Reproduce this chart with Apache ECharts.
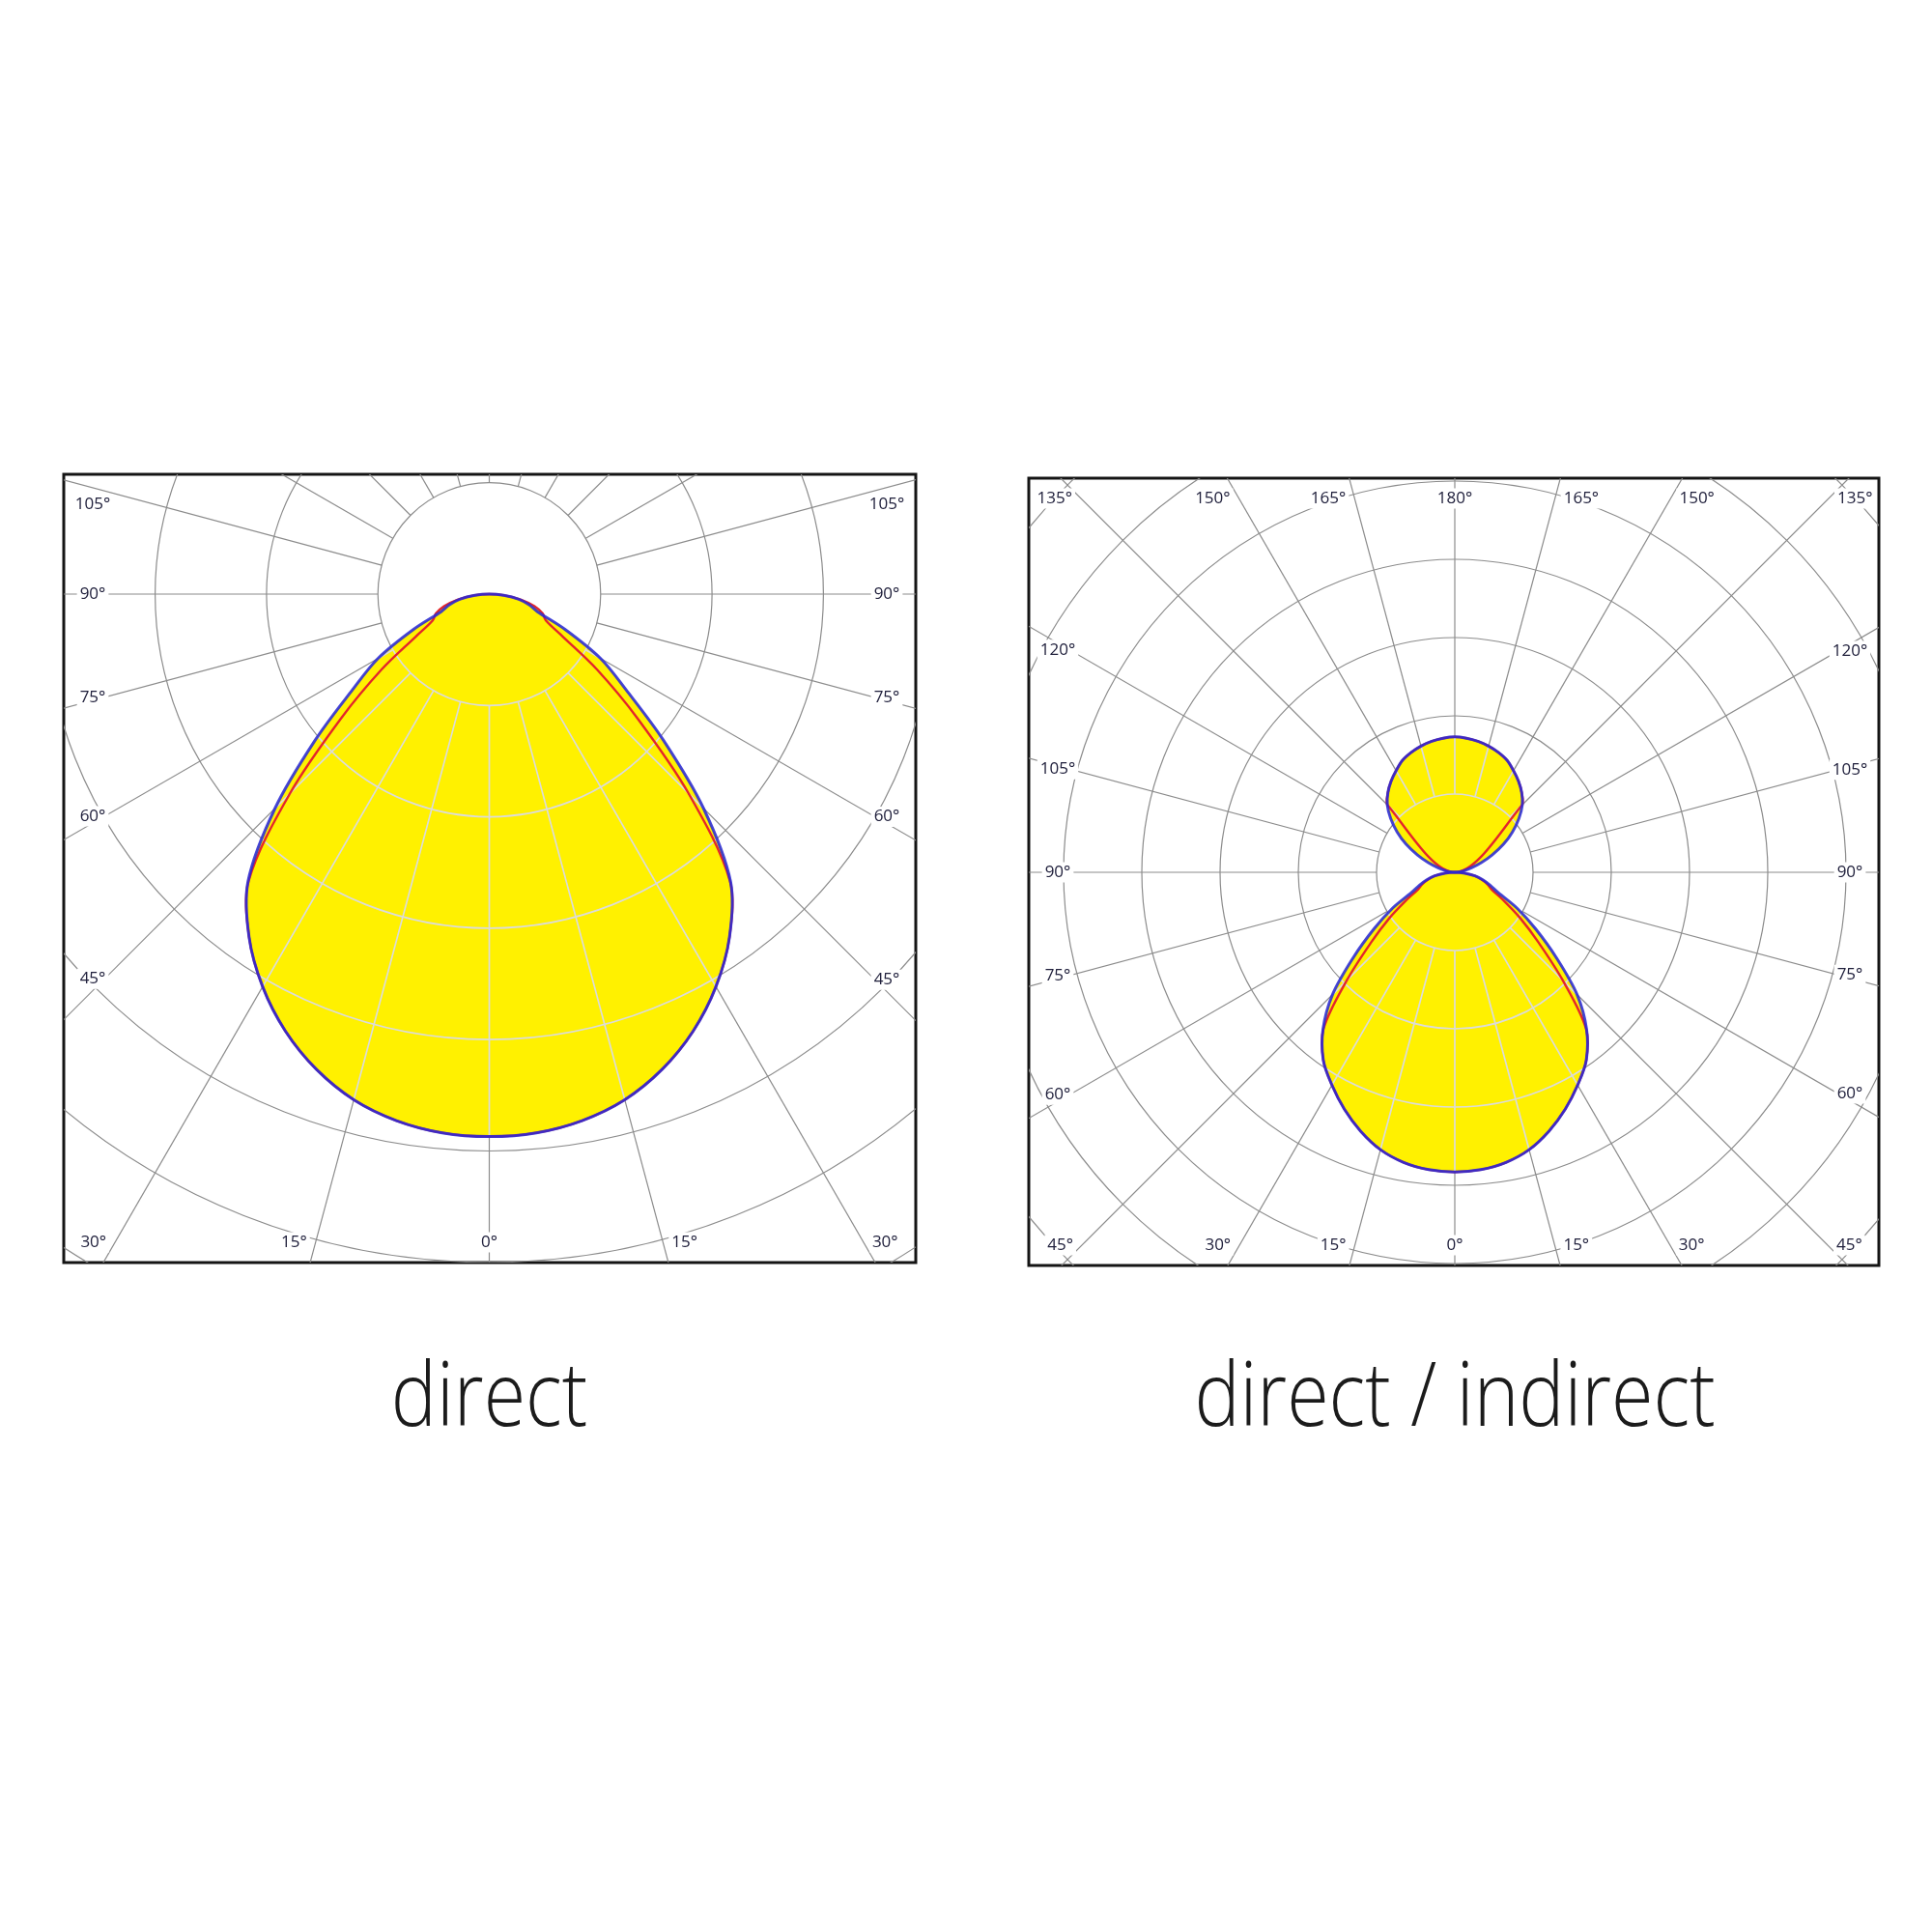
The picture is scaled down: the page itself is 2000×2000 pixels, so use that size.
<!DOCTYPE html>
<html>
<head>
<meta charset="utf-8">
<script src="https://cdn.jsdelivr.net/npm/echarts@6/dist/echarts.min.js"></script>
<style>html,body{margin:0;padding:0;background:#fff}#chart{width:2000px;height:2000px}</style>
</head>
<body>
<div id="chart"></div>
<script>
// ---------------- data (intensities in ring units) ----------------
const GAMMA_LOWER = [0, 5, 10, 15, 20, 25, 30, 35, 40, 45, 50, 55, 60, 65, 70, 75, 80, 85, 90];
const DIRECT_C0_C180  = [4.87, 4.855, 4.80, 4.70, 4.54, 4.33, 4.07, 3.76, 3.37, 2.72, 2.04, 1.50, 1.15, 0.75, 0.46, 0.37, 0.27, 0.13, 0];
const DIRECT_C90_C270 = [4.87, 4.855, 4.80, 4.70, 4.54, 4.33, 4.07, 3.76, 3.36, 2.53, 1.74, 1.18, 0.76, 0.56, 0.51, 0.42, 0.29, 0.14, 0];

const DI_LOWER_C0_C180  = [3.83, 3.815, 3.765, 3.67, 3.52, 3.34, 3.14, 2.93, 2.62, 2.21, 1.69, 1.26, 0.92, 0.61, 0.48, 0.37, 0.26, 0.13, 0];
const DI_LOWER_C90_C270 = [3.83, 3.815, 3.765, 3.67, 3.52, 3.34, 3.14, 2.93, 2.61, 1.95, 1.40, 1.02, 0.72, 0.52, 0.44, 0.35, 0.26, 0.12, 0];

const GAMMA_UPPER = [90, 95, 100, 105, 110, 115, 120, 125, 130, 135, 140, 145, 150, 155, 160, 165, 170, 175, 180];
const DI_UPPER_C0_C180  = [0, 0.05, 0.12, 0.22, 0.36, 0.53, 0.72, 0.90, 1.07, 1.22, 1.33, 1.42, 1.50, 1.58, 1.63, 1.67, 1.70, 1.72, 1.73];
const DI_UPPER_C90_C270 = [0, 0, 0, 0, 0, 0, 0, 0, 0, 1.21, 1.33, 1.42, 1.50, 1.58, 1.63, 1.67, 1.70, 1.72, 1.73];

const RING_VALUES = [1, 2, 3, 4, 5, 6, 7, 8, 9];
const RAY_ANGLES = [0, 15, 30, 45, 60, 75, 90, 105, 120, 135, 150, 165, 180, 195, 210, 225, 240, 255, 270, 285, 300, 315, 330, 345];
const DIRECT_LABEL_ANGLES = [-105, -90, -75, -60, -45, -30, -15, 0, 15, 30, 45, 60, 75, 90, 105];
const DI_LABEL_ANGLES = [-165, -150, -135, -120, -105, -90, -75, -60, -45, -30, -15, 0, 15, 30, 45, 60, 75, 90, 105, 120, 135, 150, 165, 180];
const TITLES = ['direct', 'direct / indirect'];

// ---------------- layout / style ----------------
const PANELS = [
  { left: 66, top: 491, width: 882, height: 816, cx: 506.5, cy: 615, unit: 115.3 },
  { left: 1065, top: 495, width: 880, height: 815, cx: 1506, cy: 903, unit: 81 }
];
const TITLE_Y = 1450;
const SIDE_INSET = 30, EDGE_INSET = 21, CORNER_GAP = 31, EDGE_GAP = 6, PULL = 0.03;
const YELLOW = '#fff100', BLUE = '#2a2ad4', RED = '#e3262b', GRID_GREY = '#8c8c8c';
const SMOOTH = 0.33;

const rad = d => d * Math.PI / 180;
function toXY(g, r) { return [r * Math.sin(rad(g)), -r * Math.cos(rad(g))]; }
function lowerLoop(gam, val) {
  const pts = [];
  for (let i = gam.length - 1; i >= 1; i--) pts.push(toXY(-gam[i], val[i]));
  for (let i = 0; i < gam.length; i++) pts.push(toXY(gam[i], val[i]));
  return pts;
}
function upperLoop(gam, val) {
  const pts = [];
  for (let i = 0; i < gam.length; i++) pts.push(toXY(gam[i], val[i]));
  for (let i = gam.length - 2; i >= 0; i--) pts.push(toXY(360 - gam[i], val[i]));
  return pts;
}
function pix(api, pts) {
  const out = [];
  pts.forEach(p => {
    const q = api.coord(p);
    const l = out[out.length - 1];
    if (!l || Math.hypot(q[0] - l[0], q[1] - l[1]) > 0.5) out.push(q);
  });
  const f = out[0], l = out[out.length - 1];
  if (out.length > 2 && Math.hypot(f[0] - l[0], f[1] - l[1]) <= 0.5) out.pop();
  return out;
}

const PANEL_LOBES = [
  [ { kind: 'lower', g: GAMMA_LOWER, c0: DIRECT_C0_C180, c90: DIRECT_C90_C270 } ],
  [ { kind: 'lower', g: GAMMA_LOWER, c0: DI_LOWER_C0_C180, c90: DI_LOWER_C90_C270 },
    { kind: 'upper', g: GAMMA_UPPER, c0: DI_UPPER_C0_C180, c90: DI_UPPER_C90_C270 } ]
];
const PANEL_LABELS = [DIRECT_LABEL_ANGLES, DI_LABEL_ANGLES];

function loopPts(lobe, key) {
  return lobe.kind === 'lower' ? lowerLoop(lobe.g, lobe[key]) : upperLoop(lobe.g, lobe[key]);
}

function ringRender(color, width) {
  return function (params, api) {
    const k = api.value(0);
    const o = api.coord([0, 0]);
    const r = api.coord([k, 0])[0] - o[0];
    return { type: 'circle', silent: true, shape: { cx: o[0], cy: o[1], r: r },
             style: { fill: 'none', stroke: color, lineWidth: width } };
  };
}
function rayRender(color, width) {
  return function (params, api) {
    const a = api.value(0);
    const p1 = api.coord(toXY(a, 1)), p2 = api.coord(toXY(a, 14));
    return { type: 'line', silent: true, shape: { x1: p1[0], y1: p1[1], x2: p2[0], y2: p2[1] },
             style: { fill: 'none', stroke: color, lineWidth: width } };
  };
}
function fillRender(lobes) {
  return function (params, api) {
    const children = [];
    lobes.forEach(lobe => {
      ['c0', 'c90'].forEach(key => {
        children.push({ type: 'polygon', silent: true,
          shape: { points: pix(api, loopPts(lobe, key)), smooth: SMOOTH },
          style: { fill: YELLOW, stroke: 'none' } });
      });
    });
    return { type: 'group', children };
  };
}
function curveRender(lobes, key, color, width, opacity) {
  return function (params, api) {
    const children = lobes.map(lobe => ({ type: 'polygon', silent: true,
      shape: { points: pix(api, loopPts(lobe, key)), smooth: SMOOTH },
      style: { fill: 'none', stroke: color, lineWidth: width, opacity: opacity, lineJoin: 'round' } }));
    return { type: 'group', children };
  };
}
function labelRender(params, api) {
  const a = api.value(0);
  const cs = params.coordSys;
  const o = api.coord([0, 0]);
  const dx = Math.sin(rad(a)), dy = Math.cos(rad(a));
  let t = Infinity, side = 'v';
  const eps = 1e-6;
  if (dx > eps) { const tt = (cs.x + cs.width - o[0]) / dx; if (tt < t) { t = tt; side = 'v'; } }
  if (dx < -eps) { const tt = (cs.x - o[0]) / dx; if (tt < t) { t = tt; side = 'v'; } }
  if (dy > eps) { const tt = (cs.y + cs.height - o[1]) / dy; if (tt < t) { t = tt; side = 'h'; } }
  if (dy < -eps) { const tt = (cs.y - o[1]) / dy; if (tt < t) { t = tt; side = 'h'; } }
  let x, y, align = 'center';
  if (side === 'v') {
    x = dx > 0 ? cs.x + cs.width - SIDE_INSET : cs.x + SIDE_INSET;
    y = o[1] + dy * ((x - o[0]) / dx);
    y = y - PULL * (y - o[1]);
    y = Math.min(Math.max(y, cs.y + CORNER_GAP), cs.y + cs.height - CORNER_GAP);
  } else {
    y = dy > 0 ? cs.y + cs.height - EDGE_INSET : cs.y + EDGE_INSET;
    x = o[0] + dx * ((y - o[1]) / dy);
    if (dx < -eps) { align = 'right'; x -= EDGE_GAP; }
    else if (dx > eps) { align = 'left'; x += EDGE_GAP; }
  }
  return { type: 'text', silent: true, x: x, y: y,
    style: { text: Math.abs(a) + '°', font: '17px "Open Sans"', fill: '#20203c',
             align: align, verticalAlign: 'middle', backgroundColor: '#fff', padding: [2, 3] } };
}

const series = [];
PANELS.forEach((p, i) => {
  const base = { type: 'custom', xAxisIndex: i, yAxisIndex: i, clip: true, silent: true, animation: false };
  series.push(Object.assign({}, base, { name: 'rings-' + i, z: 1, data: RING_VALUES.map(k => [k, 0]), renderItem: ringRender(GRID_GREY, 1.2) }));
  series.push(Object.assign({}, base, { name: 'rays-' + i, z: 1, data: RAY_ANGLES.map(a => [a, 0]), renderItem: rayRender(GRID_GREY, 1.2) }));
  series.push(Object.assign({}, base, { name: 'fill-' + i, z: 2, data: [[0, 0]], renderItem: fillRender(PANEL_LOBES[i]) }));
  series.push(Object.assign({}, base, { name: 'rings-light-' + i, z: 3, blendMode: 'saturation', data: RING_VALUES.map(k => [k, 0]), renderItem: ringRender(GRID_GREY, 1.7) }));
  series.push(Object.assign({}, base, { name: 'rays-light-' + i, z: 3, blendMode: 'saturation', data: RAY_ANGLES.map(a => [a, 0]), renderItem: rayRender(GRID_GREY, 1.7) }));
  series.push(Object.assign({}, base, { name: 'c90-' + i, z: 4, data: [[0, 0]], renderItem: curveRender(PANEL_LOBES[i], 'c90', RED, 2.4, 1) }));
  series.push(Object.assign({}, base, { name: 'c0-' + i, z: 5, data: [[0, 0]], renderItem: curveRender(PANEL_LOBES[i], 'c0', BLUE, 3, 0.88) }));
  series.push(Object.assign({}, base, { name: 'labels-' + i, z: 6, clip: false, data: PANEL_LABELS[i].map(a => [a, 0]), renderItem: labelRender }));
});

const option = {
  backgroundColor: '#fff',
  animation: false,
  grid: PANELS.map(p => ({ left: p.left, top: p.top, width: p.width, height: p.height, show: true,
                           borderColor: '#141414', borderWidth: 3, backgroundColor: 'transparent' })),
  xAxis: PANELS.map((p, i) => ({ type: 'value', gridIndex: i, show: false,
                                 min: (p.left - p.cx) / p.unit, max: (p.left + p.width - p.cx) / p.unit })),
  yAxis: PANELS.map((p, i) => ({ type: 'value', gridIndex: i, show: false,
                                 min: (p.cy - (p.top + p.height)) / p.unit, max: (p.cy - p.top) / p.unit })),
  series: series,
  graphic: TITLES.map((t, i) => ({ type: 'text', silent: true, x: PANELS[i].cx, y: TITLE_Y, scaleX: 0.86,
    style: { text: t, font: '300 92px "Open Sans"', fill: '#1b1b1b', align: 'center', verticalAlign: 'middle' } }))
};

const chart = echarts.init(document.getElementById('chart'), null, { renderer: 'canvas', width: 2000, height: 2000 });
chart.setOption(option);
</script>
</body>
</html>
